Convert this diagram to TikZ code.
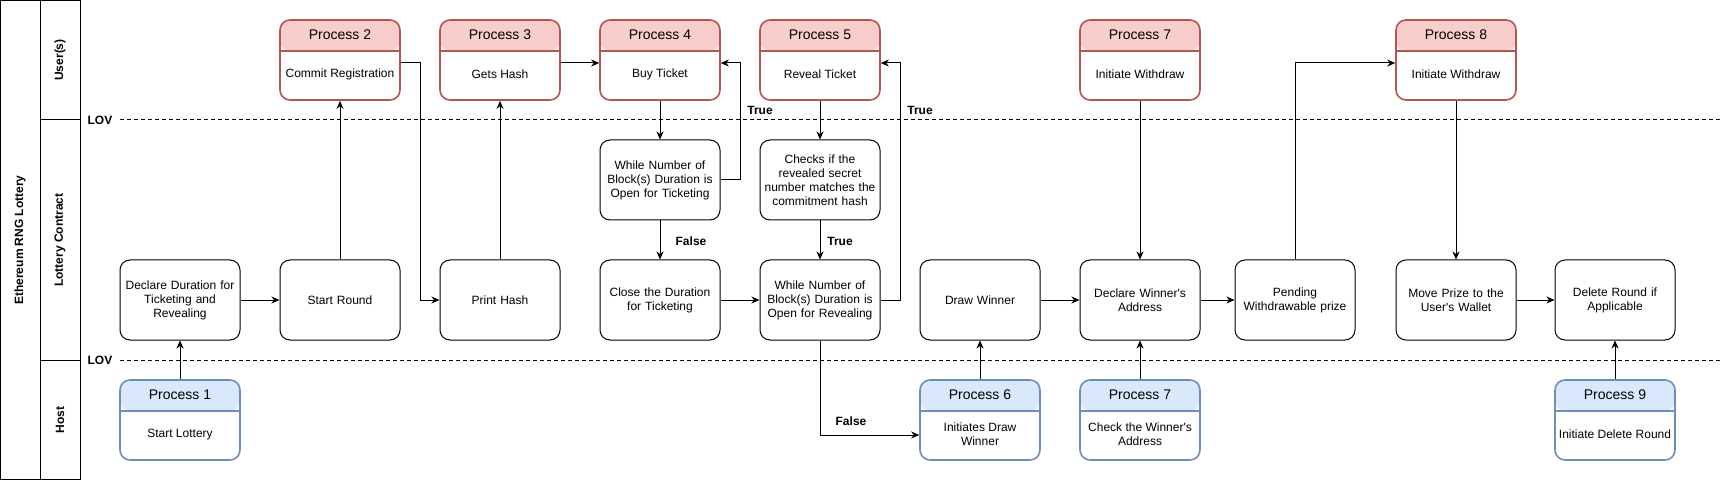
\documentclass[tikz,border=0pt]{standalone}
\usepackage{fontspec}
\setmainfont{Liberation Sans}[Ligatures=TeXOff]
\usetikzlibrary{arrows.meta,calc}
\definecolor{redln}{HTML}{B85450}
\definecolor{redfill}{HTML}{F8CECC}
\definecolor{blueln}{HTML}{6C8EBF}
\definecolor{bluefill}{HTML}{DAE8FC}
\begin{document}
\begin{tikzpicture}[x=1pt,y=-1pt,
  box/.style={draw, rounded corners=10pt, minimum width=120pt, minimum height=80pt, inner sep=0pt, line width=1pt, font=\fontsize{12}{14}\selectfont, align=center, text width=118pt},
  hbox/.style={box, draw=#1ln, line width=1.6pt,
    path picture={\fill[#1fill] (path picture bounding box.north west) rectangle ([yshift=-31pt]path picture bounding box.north east);
      \draw[#1ln, line width=1.6pt] ([yshift=-31pt]path picture bounding box.north west) -- ([yshift=-31pt]path picture bounding box.north east);}},
  hdr/.style={font=\fontsize{14}{16}\selectfont, inner sep=0pt},
  body/.style={font=\fontsize{12}{14}\selectfont, align=center, inner sep=0pt},
  arr/.style={-{Stealth[length=8pt,width=7pt,inset=2.5pt]}, line width=1pt},
  lbl/.style={font=\bfseries\fontsize{12}{14}\selectfont, inner sep=0pt},
  lane/.style={font=\bfseries\fontsize{12}{14}\selectfont, rotate=90, inner sep=0pt},
  dashln/.style={line width=1pt, dash pattern=on 4pt off 3pt}
]
\useasboundingbox (0,0) rectangle (1722,481);

% swimlane frame
\draw[line width=1pt] (0.5,0.5) rectangle (80,479.5);
\draw[line width=1pt] (40,0.5) -- (40,479.5);
\draw[line width=1pt] (40,120) -- (80,120);
\draw[line width=1pt] (40,360) -- (80,360);
\node[lane] (lpool) at (20,240) {Ethereum RNG Lottery};
\node[lane] (luser) at (60,60) {User(s)};
\node[lane] (lcon) at (60,240) {Lottery Contract};
\node[lane] (lhost) at (60,420) {Host};

% LOV lines
\node[lbl] (lov1) at (100,120) {LOV};
\node[lbl] (lov2) at (100,360) {LOV};
\coordinate (d1a) at (120,120); \coordinate (d1b) at (1722,120);
\coordinate (d2a) at (120,360); \coordinate (d2b) at (1722,360);
\draw[dashln] (d1a) -- (d1b);
\draw[dashln] (d2a) -- (d2b);

% user boxes
\node[hbox=red] (p2) at (340,60) {};
\node[hbox=red] (p3) at (500,60) {};
\node[hbox=red] (p4) at (660,60) {};
\node[hbox=red] (p5) at (820,60) {};
\node[hbox=red] (p7u) at (1140,60) {};
\node[hbox=red] (p8) at (1456,60) {};
% host boxes
\node[hbox=blue] (p1) at (180,420) {};
\node[hbox=blue] (p6) at (980,420) {};
\node[hbox=blue] (p7h) at (1140,420) {};
\node[hbox=blue] (p9) at (1615,420) {};

% header and body texts
\foreach \n/\h/\b in {p2/Process 2/Commit Registration, p3/Process 3/Gets Hash, p4/Process 4/Buy Ticket, p5/Process 5/Reveal Ticket, p7u/Process 7/Initiate Withdraw, p8/Process 8/Initiate Withdraw, p1/Process 1/Start Lottery, p6/Process 6/{Initiates Draw\\Winner}, p7h/Process 7/{Check the Winner's\\Address}, p9/Process 9/Initiate Delete Round}{
  \node[hdr] (\n h) at ([yshift=-15.5pt]\n.north) {\h};
  \node[body] (\n b) at ([yshift=-55.5pt]\n.north) {\b};
}

% contract boxes
\node[box] (c1) at (180,300) {Declare Duration for\\Ticketing and\\Revealing};
\node[box] (c2) at (340,300) {Start Round};
\node[box] (c3) at (500,300) {Print Hash};
\node[box] (w4) at (660,180) {While Number of\\Block(s) Duration is\\Open for Ticketing};
\node[box] (c4) at (660,300) {Close the Duration\\for Ticketing};
\node[box] (k5) at (820,180) {Checks if the\\revealed secret\\number matches the\\commitment hash};
\node[box] (c5) at (820,300) {While Number of\\Block(s) Duration is\\Open for Revealing};
\node[box] (c6) at (980,300) {Draw Winner};
\node[box] (c7) at (1140,300) {Declare Winner's\\Address};
\node[box] (c8) at (1295,300) {Pending\\Withdrawable prize};
\node[box] (c9) at (1456,300) {Move Prize to the\\User's Wallet};
\node[box] (c10) at (1615,300) {Delete Round if\\Applicable};

% connectors
\draw[arr] (p1) -- (c1);
\draw[arr] (c1) -- (c2);
\draw[arr] (c2) -- (p2);
\draw[arr] ([yshift=-3pt]p2.east) -- ++(20,0) |- (c3.west);
\draw[arr] (c3) -- (p3);
\draw[arr] ([yshift=-3pt]p3.east) -- ([yshift=-3pt]p4.west);
\draw[arr] (p4) -- (w4);
\draw[arr] (w4.east) -- ++(20,0) |- ([yshift=-3pt]p4.east);
\draw[arr] (w4) -- (c4);
\draw[arr] (c4) -- (c5);
\draw[arr] (p5) -- (k5);
\draw[arr] (k5) -- (c5);
\draw[arr] (c5.east) -- ++(20,0) |- ([yshift=-3pt]p5.east);
\draw[arr] (c5.south) |- ([yshift=-15pt]p6.west);
\draw[arr] (p6) -- (c6);
\draw[arr] (c6) -- (c7);
\draw[arr] (p7u) -- (c7);
\draw[arr] (p7h) -- (c7);
\draw[arr] (c7) -- (c8);
\draw[arr] (c8.north) |- ([yshift=-3pt]p8.west);
\draw[arr] (p8) -- (c9);
\draw[arr] (c9) -- (c10);
\draw[arr] (p9) -- (c10);

% edge labels
\node[lbl] (t1) at (760,110) {True};
\node[lbl] (t2) at (920,110) {True};
\node[lbl] (f1) at (691,241) {False};
\node[lbl] (t3) at (840,241) {True};
\node[lbl] (f2) at (851,421) {False};
\end{tikzpicture}
\end{document}
